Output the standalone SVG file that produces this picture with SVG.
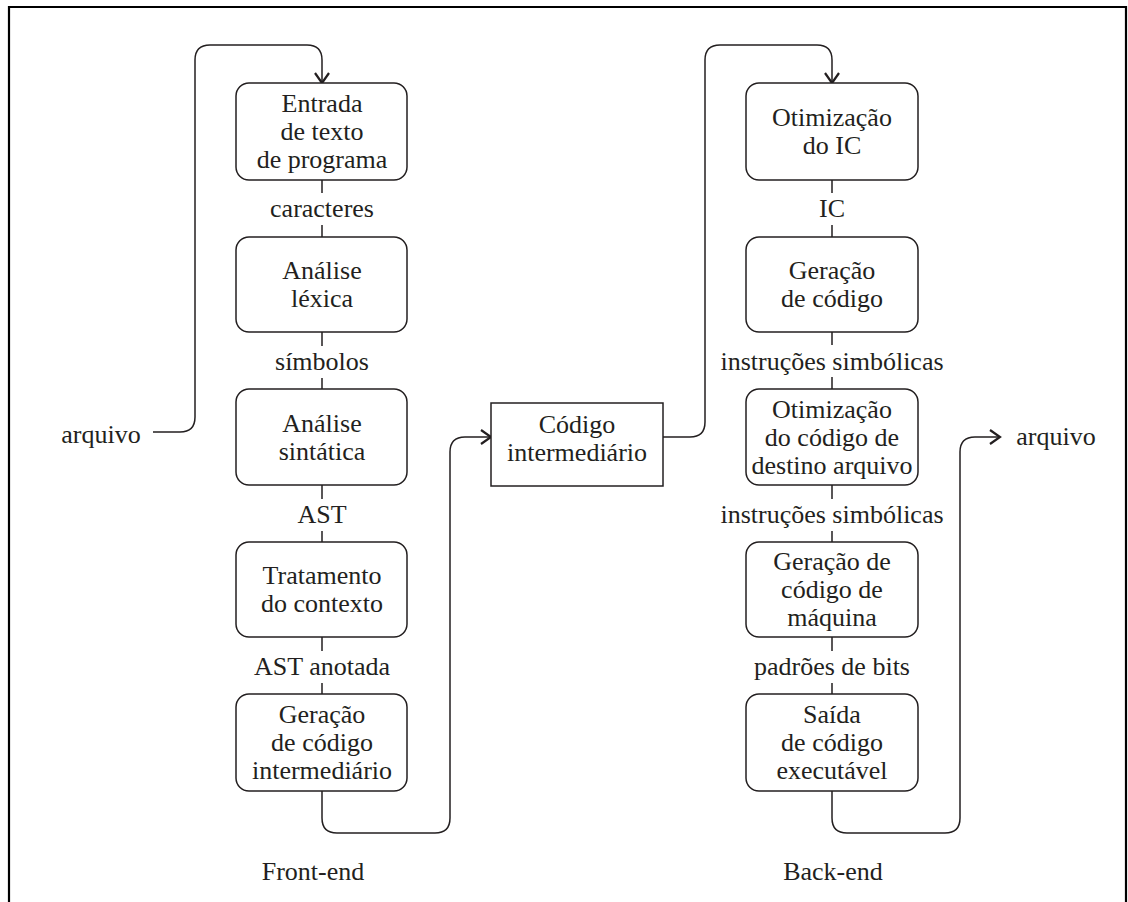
<svg xmlns="http://www.w3.org/2000/svg" width="1128" height="902" viewBox="0 0 1128 902">
  <defs>
    <marker id="arr" markerWidth="16" markerHeight="16" refX="13" refY="8" orient="auto" markerUnits="userSpaceOnUse">
      <path d="M3,1 L13,8 L3,15" fill="none" stroke="#231f20" stroke-width="2.2"/>
    </marker>
    <style>
      text { font-family: "Liberation Serif", "Times New Roman", serif; font-size: 26px; fill: #231f20; text-anchor: middle; }
      .box { fill: #ffffff; stroke: #231f20; stroke-width: 1.5; }
      .wire { fill: none; stroke: #231f20; stroke-width: 1.5; }
      .lbl { text-anchor: start; }
    </style>
  </defs>
  <rect width="1128" height="902" fill="#ffffff"/>
  <!-- frame -->
  <path d="M9,902 L9,7 L1126,7 L1126,902" fill="none" stroke="#000000" stroke-width="2.2"/>

  <!-- connectors -->
  <g id="connectors">
    <!-- input file into the front end -->
    <path class="wire" d="M153,432 L180,432 Q195,432 195,417 L195,60 Q195,45 210,45 L307,45 Q322,45 322,60 L322,83" marker-end="url(#arr)"/>
    <!-- front-end chain -->
    <path class="wire" d="M322,180 V193 M322,225 V237"/>
    <path class="wire" d="M322,332 V346 M322,378 V389"/>
    <path class="wire" d="M322,485 V499 M322,531 V542"/>
    <path class="wire" d="M322,637 V651 M322,683 V694"/>
    <!-- front end to intermediate code -->
    <path class="wire" d="M322,791 L322,818 Q322,833 337,833 L435,833 Q450,833 450,818 L450,452 Q450,437 465,437 L491,437" marker-end="url(#arr)"/>
    <!-- intermediate code to back end -->
    <path class="wire" d="M663,437 L690,437 Q705,437 705,422 L705,60 Q705,45 720,45 L817,45 Q832,45 832,60 L832,83" marker-end="url(#arr)"/>
    <!-- back-end chain -->
    <path class="wire" d="M832,180 V193 M832,225 V237"/>
    <path class="wire" d="M832,332 V345 M832,377 V389"/>
    <path class="wire" d="M832,485 V499 M832,531 V542"/>
    <path class="wire" d="M832,637 V651 M832,683 V694"/>
    <!-- back end to output file -->
    <path class="wire" d="M832,791 L832,818 Q832,833 847,833 L945,833 Q960,833 960,818 L960,452 Q960,437 975,437 L1000,437" marker-end="url(#arr)"/>
  </g>

  <!-- edge labels -->
  <g id="labels">
    <text x="101" y="443">arquivo</text>
    <text x="1056" y="445">arquivo</text>
    <text x="322" y="217">caracteres</text>
    <text x="322" y="370">símbolos</text>
    <text x="322" y="523">AST</text>
    <text x="322" y="675">AST anotada</text>
    <text x="832" y="217">IC</text>
    <text x="832" y="370">instruções simbólicas</text>
    <text x="832" y="523">instruções simbólicas</text>
    <text x="832" y="675">padrões de bits</text>
    <text x="313" y="880">Front-end</text>
    <text x="833" y="880">Back-end</text>
  </g>

  <!-- front end -->
  <g id="entrada">
    <rect class="box" x="236" y="83" width="171" height="97" rx="13"/>
    <text x="322" y="112">Entrada</text>
    <text x="322" y="140">de texto</text>
    <text x="322" y="168">de programa</text>
  </g>
  <g id="lexica">
    <rect class="box" x="236" y="237" width="171" height="95" rx="13"/>
    <text x="322" y="279">Análise</text>
    <text x="322" y="307">léxica</text>
  </g>
  <g id="sintatica">
    <rect class="box" x="236" y="389" width="171" height="96" rx="13"/>
    <text x="322" y="432">Análise</text>
    <text x="322" y="460">sintática</text>
  </g>
  <g id="contexto">
    <rect class="box" x="236" y="542" width="171" height="95" rx="13"/>
    <text x="322" y="584">Tratamento</text>
    <text x="322" y="612">do contexto</text>
  </g>
  <g id="geracao-ic">
    <rect class="box" x="236" y="694" width="171" height="97" rx="13"/>
    <text x="322" y="723">Geração</text>
    <text x="322" y="751">de código</text>
    <text x="322" y="779">intermediário</text>
  </g>

  <!-- intermediate code -->
  <g id="codigo-intermediario">
    <rect class="box" x="491" y="403" width="172" height="83"/>
    <text x="577" y="433">Código</text>
    <text x="577" y="461">intermediário</text>
  </g>

  <!-- back end -->
  <g id="otimizacao-ic">
    <rect class="box" x="746" y="83" width="172" height="97" rx="13"/>
    <text x="832" y="126">Otimização</text>
    <text x="832" y="154">do IC</text>
  </g>
  <g id="geracao-codigo">
    <rect class="box" x="746" y="237" width="172" height="95" rx="13"/>
    <text x="832" y="279">Geração</text>
    <text x="832" y="307">de código</text>
  </g>
  <g id="otimizacao-destino">
    <rect class="box" x="746" y="389" width="172" height="96" rx="13"/>
    <text x="832" y="418">Otimização</text>
    <text x="832" y="446">do código de</text>
    <text x="832" y="474">destino arquivo</text>
  </g>
  <g id="geracao-maquina">
    <rect class="box" x="746" y="542" width="172" height="95" rx="13"/>
    <text x="832" y="570">Geração de</text>
    <text x="832" y="598">código de</text>
    <text x="832" y="626">máquina</text>
  </g>
  <g id="saida">
    <rect class="box" x="746" y="694" width="172" height="97" rx="13"/>
    <text x="832" y="723">Saída</text>
    <text x="832" y="751">de código</text>
    <text x="832" y="779">executável</text>
  </g>
</svg>
